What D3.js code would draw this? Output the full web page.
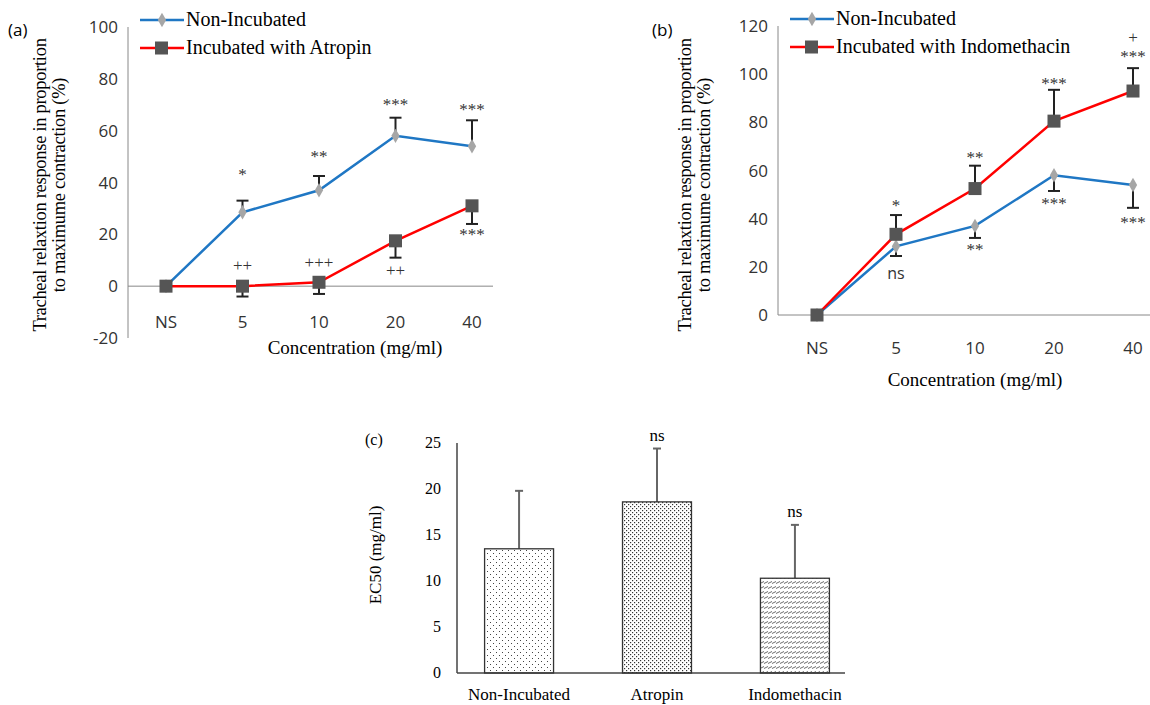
<!DOCTYPE html>
<html><head><meta charset="utf-8">
<script src="https://cdn.jsdelivr.net/npm/d3@7"></script>
<style>body{margin:0;background:#fff}</style>
</head><body>
<svg id="c" width="1150" height="705"></svg>
<script>
const categories = ['NS', '5', '10', '20', '40'];
const nonInc = [0, 28.5, 37, 58, 54];
const nonIncErrA = [0, 4.5, 5.5, 7, 10];
const atropin = [0, 0, 1.5, 17.5, 31];
const atropinErr = [0, 4, 4.5, 6.5, 7];
const nonIncErrB = [0, 4, 5, 6.5, 9.5];
const indo = [0, 33.5, 52.5, 80.5, 93];
const indoErr = [0, 8, 9.5, 13, 9.5];
const annA = [
  {i: 1, v: 41, t: '*'}, {i: 2, v: 48, t: '**'}, {i: 3, v: 68, t: '***'}, {i: 4, v: 66, t: '***'},
  {i: 1, v: 6, t: '++'}, {i: 2, v: 7, t: '+++'}, {i: 3, v: 4, t: '++'}, {i: 4, v: 18, t: '***'}];
const annB = [
  {i: 1, v: 43, t: '*'}, {i: 1, v: 15, t: 'ns', sans: true}, {i: 2, v: 63, t: '**'}, {i: 2, v: 25, t: '**'},
  {i: 3, v: 94, t: '***'}, {i: 3, v: 44, t: '***'}, {i: 4, v: 113, t: '+'}, {i: 4, v: 105, t: '***'},
  {i: 4, v: 36, t: '***'}];
const barCats = ['Non-Incubated', 'Atropin', 'Indomethacin'];
const barVals = [13.5, 18.6, 10.3];
const barErr = [6.3, 5.8, 5.8];
const barAnn = ['', 'ns', 'ns'];

const svg = d3.select('#c');
const serif = 'Liberation Serif, Times New Roman, serif';
const sans = 'Open Sans, Liberation Sans, sans-serif';
const BLUE = '#1f77c4', RED = '#ff0000', MARK = '#555';

const defs = svg.append('defs');
const p1 = defs.append('pattern').attr('id', 'dots1').attr('width', 6).attr('height', 6).attr('patternUnits', 'userSpaceOnUse');
p1.append('rect').attr('x', 1).attr('y', 1).attr('width', 1).attr('height', 1).attr('fill', '#444');
p1.append('rect').attr('x', 4).attr('y', 4).attr('width', 1).attr('height', 1).attr('fill', '#444');
const p2 = defs.append('pattern').attr('id', 'dots2').attr('width', 4).attr('height', 4).attr('patternUnits', 'userSpaceOnUse');
p2.append('rect').attr('x', 0).attr('y', 0).attr('width', 1.2).attr('height', 1.2).attr('fill', '#333');
p2.append('rect').attr('x', 2).attr('y', 2).attr('width', 1.2).attr('height', 1.2).attr('fill', '#333');
const p3 = defs.append('pattern').attr('id', 'hatch').attr('width', 4).attr('height', 5).attr('patternUnits', 'userSpaceOnUse');
p3.append('path').attr('d', 'M0,3.5 L4,1.5').attr('stroke', '#444').attr('stroke-width', 0.8);

function linePanel(o) {
  const g = svg.append('g');
  const x = d3.scalePoint().domain(categories).range(o.xr);
  const y = d3.scaleLinear().domain(o.yd).range(o.yr);
  g.append('line').attr('x1', o.ax).attr('x2', o.ax).attr('y1', y(o.yd[0])).attr('y2', y(o.yd[1])).attr('stroke', '#888');
  g.append('line').attr('x1', o.ax).attr('x2', o.axEnd).attr('y1', y(0)).attr('y2', y(0)).attr('stroke', '#888');
  const ticks = d3.range(o.yd[0], o.yd[1] + 1, 20);
  g.selectAll('.yt').data(ticks).join('text').attr('x', o.ax - 10).attr('y', d => y(d) + 6)
    .attr('text-anchor', 'end').attr('font-family', sans).attr('font-size', 17).attr('fill', '#333').text(d => d);
  g.selectAll('.xt').data(categories).join('text').attr('x', d => x(d)).attr('y', o.xlY)
    .attr('text-anchor', 'middle').attr('font-family', sans).attr('font-size', 17).attr('fill', '#333').text(d => d);
  g.append('text').attr('x', o.titleX).attr('y', o.titleY).attr('text-anchor', 'middle')
    .attr('font-family', serif).attr('font-size', 19).text('Concentration (mg/ml)');
  const yt = g.append('text').attr('transform', `translate(${o.ytX},${o.ytY}) rotate(-90)`)
    .attr('text-anchor', 'middle').attr('font-family', serif).attr('font-size', 18.5).attr('letter-spacing', -0.3);
  yt.append('tspan').attr('x', 0).attr('dy', 0).text('Tracheal relaxtion response in proportion');
  yt.append('tspan').attr('x', 0).attr('dy', 19).text('to maximume contraction (%)');
  g.append('text').attr('x', o.lblX).attr('y', 36).attr('font-family', sans).attr('font-size', 17).text(o.label);

  const line = d3.line().x((d, i) => x(categories[i])).y(d => y(d));
  o.series.forEach(s => {
    s.vals.forEach((v, i) => {
      if (!s.err[i]) return;
      const e = v + s.dir * s.err[i];
      g.append('line').attr('x1', x(categories[i])).attr('x2', x(categories[i])).attr('y1', y(v)).attr('y2', y(e)).attr('stroke', '#222').attr('stroke-width', 2);
      g.append('line').attr('x1', x(categories[i]) - 6).attr('x2', x(categories[i]) + 6).attr('y1', y(e)).attr('y2', y(e)).attr('stroke', '#222').attr('stroke-width', 2);
    });
  });
  o.series.forEach(s => {
    g.append('path').datum(s.vals).attr('d', line).attr('fill', 'none').attr('stroke', s.color).attr('stroke-width', 2.5);
    s.vals.forEach((v, i) => {
      const cx = x(categories[i]), cy = y(v);
      if (s.marker === 'sq') g.append('rect').attr('x', cx - 6.5).attr('y', cy - 6.5).attr('width', 13).attr('height', 13).attr('fill', MARK);
      else g.append('path').attr('d', d3.symbol(d3.symbolDiamond, 60)()).attr('transform', `translate(${cx},${cy})`).attr('fill', '#a6a6a6');
    });
  });
  o.ann.forEach(a => {
    g.append('text').attr('x', x(categories[a.i])).attr('y', y(a.v)).attr('text-anchor', 'middle')
      .attr('font-family', a.sans ? sans : serif).attr('font-size', a.sans ? 16 : 17).attr('fill', '#333').text(a.t);
  });
  o.series.forEach((s, k) => {
    const ly = o.legY + k * 28;
    g.append('line').attr('x1', o.legX).attr('x2', o.legX + 44).attr('y1', ly).attr('y2', ly).attr('stroke', s.color).attr('stroke-width', 2.5);
    if (s.marker === 'sq') g.append('rect').attr('x', o.legX + 15).attr('y', ly - 6.5).attr('width', 13).attr('height', 13).attr('fill', MARK);
    else g.append('path').attr('d', d3.symbol(d3.symbolDiamond, 60)()).attr('transform', `translate(${o.legX + 22},${ly})`).attr('fill', '#a6a6a6');
    g.append('text').attr('x', o.legX + 46).attr('y', ly + 6).attr('font-family', serif).attr('font-size', 20).text(s.name);
  });
}

linePanel({
  xr: [166, 472], yd: [-20, 100], yr: [338, 27], ax: 128, axEnd: 493, xlY: 328,
  titleX: 355, titleY: 354, ytX: 46, ytY: 185, lblX: 8, label: '(a)', legX: 140, legY: 20,
  series: [
    {name: 'Non-Incubated', vals: nonInc, err: nonIncErrA, dir: 1, color: BLUE, marker: 'd'},
    {name: 'Incubated with Atropin', vals: atropin, err: atropinErr, dir: -1, color: RED, marker: 'sq'}],
  ann: annA
});
linePanel({
  xr: [817, 1133], yd: [0, 120], yr: [315, 26], ax: 778, axEnd: 1150, xlY: 354,
  titleX: 975, titleY: 386, ytX: 691, ytY: 185, lblX: 652, label: '(b)', legX: 790, legY: 19,
  series: [
    {name: 'Non-Incubated', vals: nonInc, err: nonIncErrB, dir: -1, color: BLUE, marker: 'd'},
    {name: 'Incubated with Indomethacin', vals: indo, err: indoErr, dir: 1, color: RED, marker: 'sq'}],
  ann: annB
});

// panel (c)
const gc = svg.append('g');
const xb = d3.scaleBand().domain(barCats).range([457, 857]).paddingInner(0.5).paddingOuter(0.2);
const yb = d3.scaleLinear().domain([0, 25]).range([673, 443]);
gc.append('line').attr('x1', 457).attr('x2', 457).attr('y1', yb(0)).attr('y2', yb(25)).attr('stroke', '#444').attr('stroke-width', 1.5);
gc.append('line').attr('x1', 457).attr('x2', 845).attr('y1', yb(0)).attr('y2', yb(0)).attr('stroke', '#444').attr('stroke-width', 1.5);
gc.selectAll('.yt').data(d3.range(0, 26, 5)).join('text').attr('x', 441).attr('y', d => yb(d) + 5)
  .attr('text-anchor', 'end').attr('font-family', serif).attr('font-size', 16).text(d => d);
const fills = ['url(#dots1)', 'url(#dots2)', 'url(#hatch)'];
barCats.forEach((c, i) => {
  const cx = xb(c) + xb.bandwidth() / 2;
  gc.append('line').attr('x1', cx).attr('x2', cx).attr('y1', yb(barVals[i])).attr('y2', yb(barVals[i] + barErr[i])).attr('stroke', '#666').attr('stroke-width', 2);
  gc.append('line').attr('x1', cx - 4).attr('x2', cx + 4).attr('y1', yb(barVals[i] + barErr[i])).attr('y2', yb(barVals[i] + barErr[i])).attr('stroke', '#666').attr('stroke-width', 2);
  gc.append('rect').attr('x', xb(c)).attr('y', yb(barVals[i])).attr('width', xb.bandwidth()).attr('height', yb(0) - yb(barVals[i]))
    .attr('fill', fills[i]).attr('stroke', '#333').attr('stroke-width', 1.3);
  gc.append('text').attr('x', cx).attr('y', 700).attr('text-anchor', 'middle').attr('font-family', serif).attr('font-size', 17).text(c);
  if (barAnn[i]) gc.append('text').attr('x', cx).attr('y', yb(barVals[i] + barErr[i]) - 8).attr('text-anchor', 'middle').attr('font-family', serif).attr('font-size', 17).text(barAnn[i]);
});
gc.append('text').attr('transform', 'translate(381,555) rotate(-90)').attr('text-anchor', 'middle').attr('font-family', serif).attr('font-size', 17).text('EC50 (mg/ml)');
gc.append('text').attr('x', 365).attr('y', 445).attr('font-family', serif).attr('font-size', 16).text('(c)');
</script>
</body></html>
